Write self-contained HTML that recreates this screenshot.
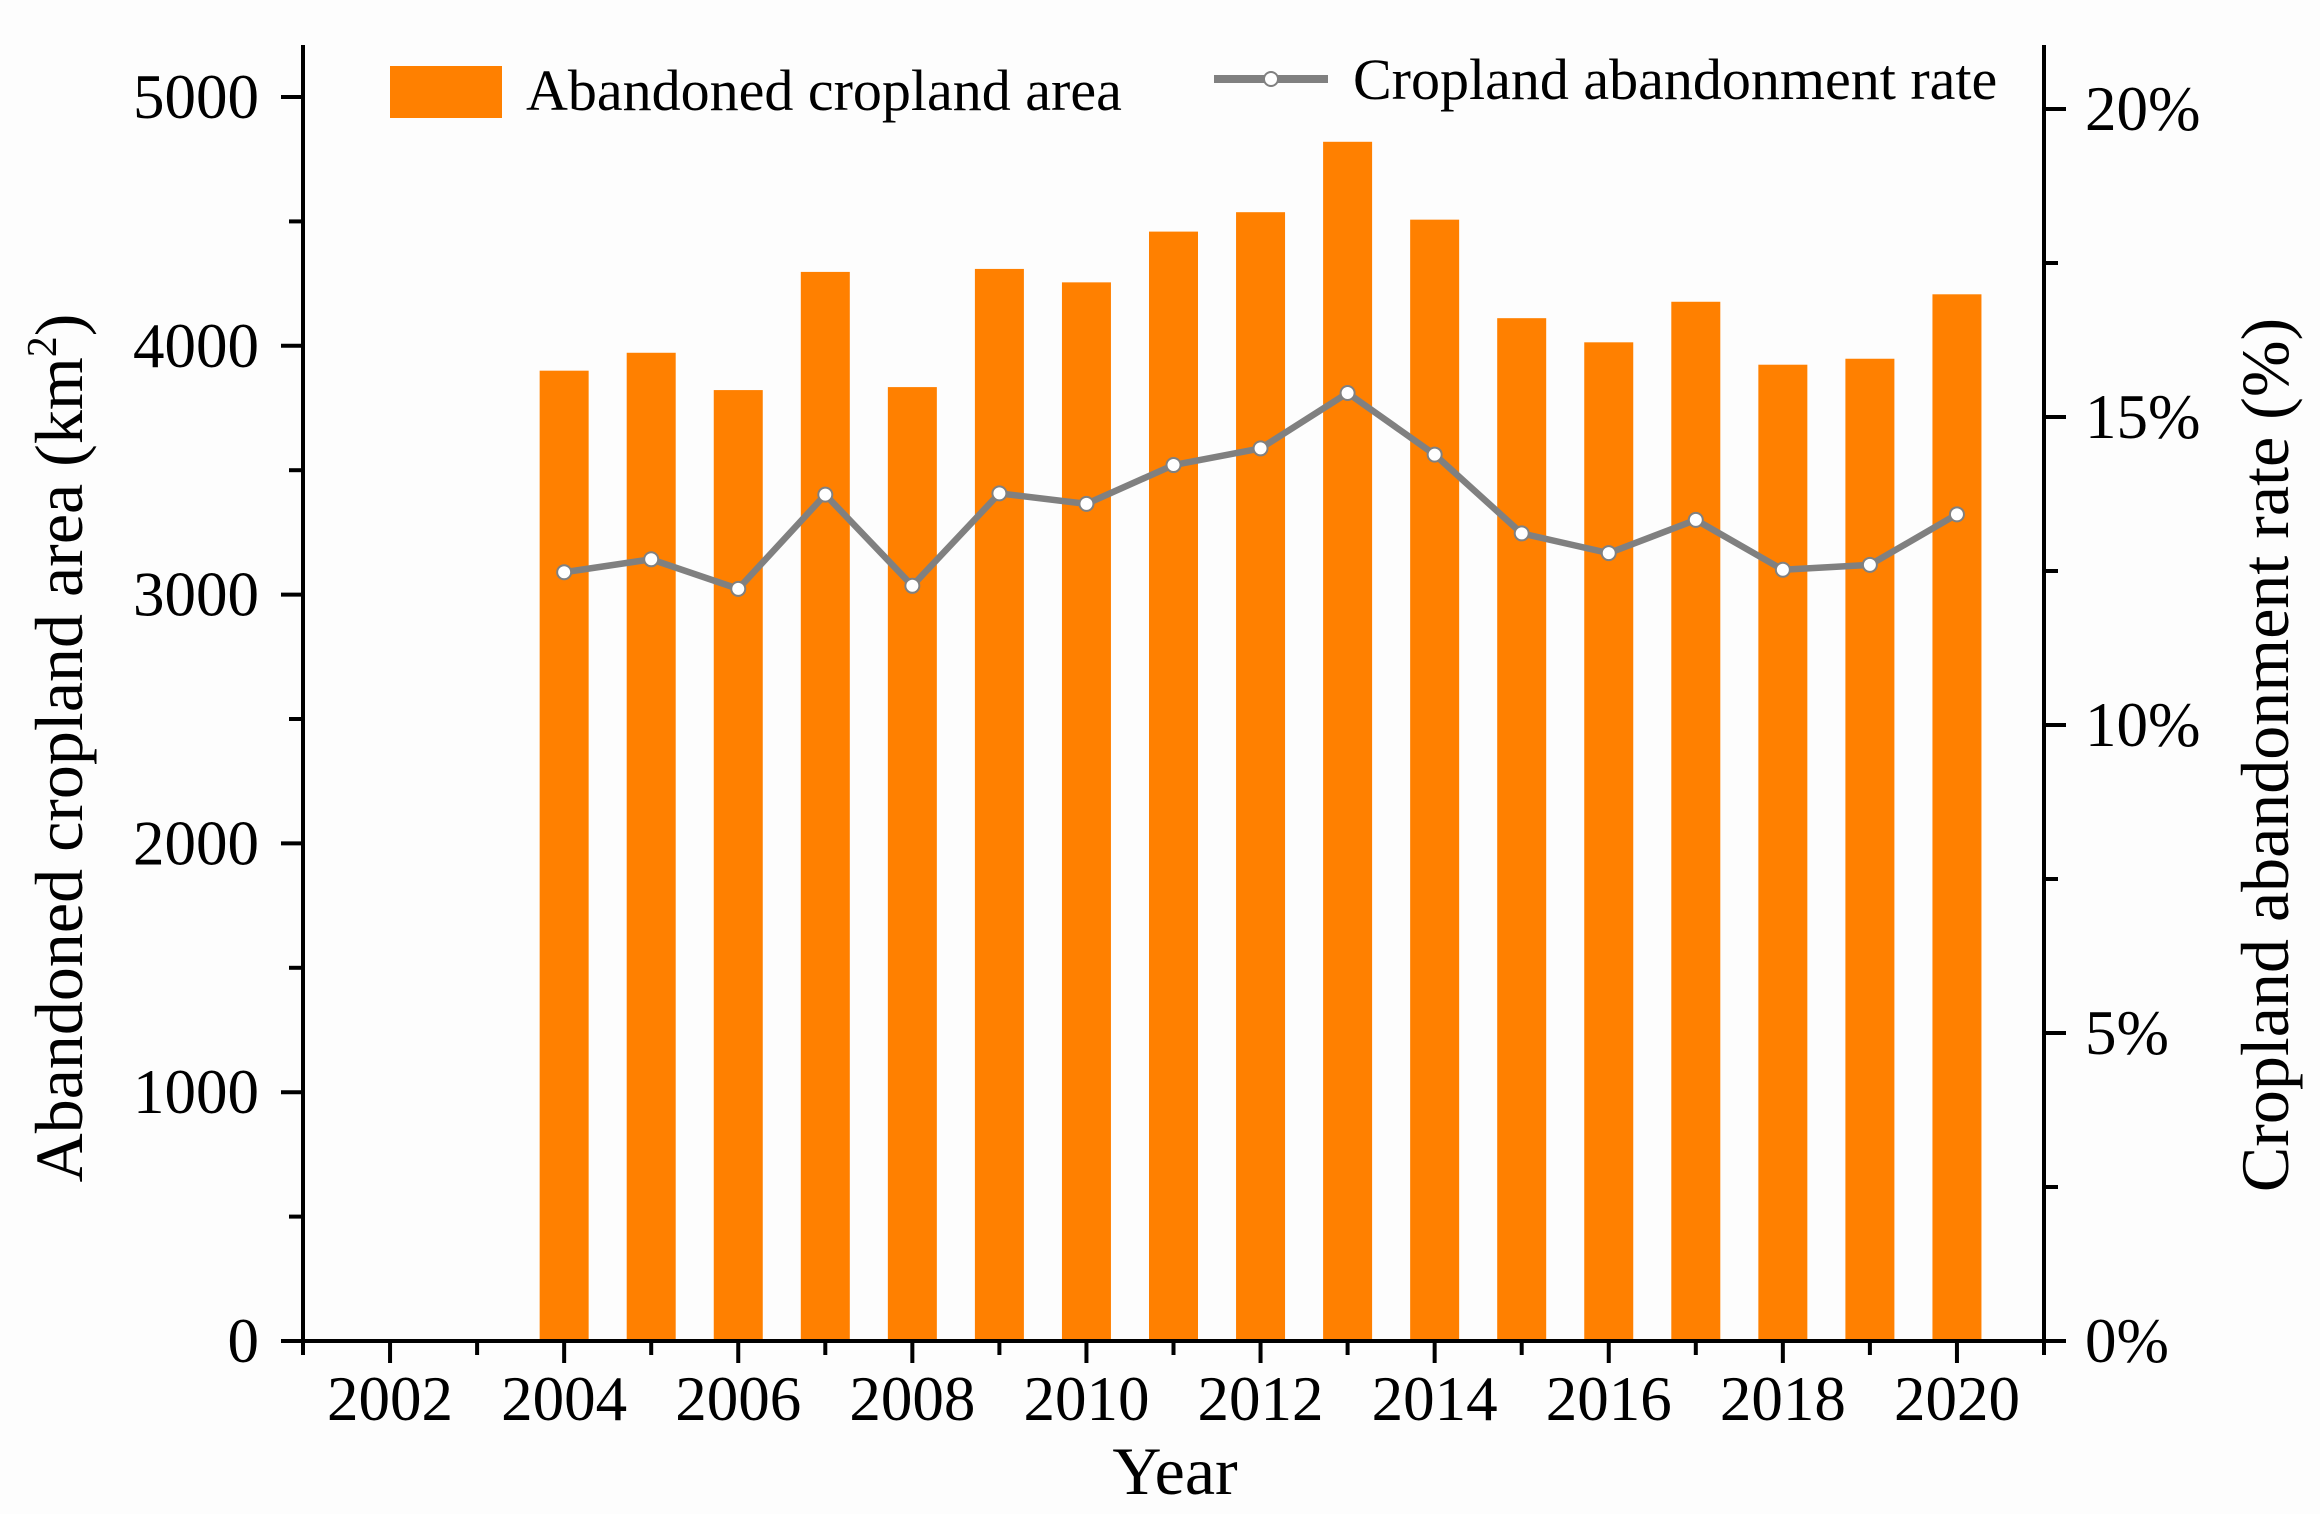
<!DOCTYPE html>
<html><head><meta charset="utf-8"><style>
html,body{margin:0;padding:0;background:#fff;}
svg{display:block;font-family:"Liberation Serif",serif;}
</style></head><body>
<svg id="chart" width="2320" height="1514" viewBox="0 0 2320 1514">
<rect width="2320" height="1514" fill="#fdfdfd"/>
<g id="bars"></g>
<g id="line"></g>
<g id="axes"></g>
<g>
<rect x="390" y="66" width="112" height="52" fill="#ff8000"/>
<text x="526" y="110" font-size="58">Abandoned cropland area</text>
<line x1="1214" y1="79" x2="1328" y2="79" stroke="#808080" stroke-width="8"/>
<circle cx="1271" cy="79" r="7" fill="#fff" stroke="#808080" stroke-width="2"/>
<text x="1353" y="99" font-size="58">Cropland abandonment rate</text>
</g>
<text transform="translate(82,748) rotate(-90)" text-anchor="middle" font-size="68">Abandoned cropland area (km<tspan dy="-26" font-size="42">2</tspan><tspan dy="26">)</tspan></text>
<text transform="translate(2288,755) rotate(-90)" text-anchor="middle" font-size="68">Cropland abandonment rate (%)</text>
<text x="1175" y="1494" text-anchor="middle" font-size="68">Year</text>
</svg>
<script>
const years = [2004,2005,2006,2007,2008,2009,2010,2011,2012,2013,2014,2015,2016,2017,2018,2019,2020];
const areaValues = [3900,3972,3822,4297,3834,4309,4255,4459,4537,4820,4507,4111,4014,4177,3924,3948,4207];
const rateValues = [12.48,12.69,12.21,13.74,12.26,13.76,13.59,14.22,14.49,15.39,14.39,13.11,12.79,13.33,12.52,12.6,13.42];
const xTickLabels = [2002,2004,2006,2008,2010,2012,2014,2016,2018,2020];
const leftTickLabels = [0,1000,2000,3000,4000,5000];
const rightTickLabels = [0,5,10,15,20];

const NS='http://www.w3.org/2000/svg';
const X0=303,X1=2044,Y0=1341,YT=45;
const xs=y=>X0+(y-2001)*(X1-X0)/20;
const yl=v=>Y0-v*(Y0-97)/5000;
const yr=v=>Y0-v*(Y0-109)/20;
function mk(tag,attrs,parent){const e=document.createElementNS(NS,tag);for(const k in attrs)e.setAttribute(k,attrs[k]);parent.appendChild(e);return e;}
const bars=document.getElementById('bars'),line=document.getElementById('line'),axes=document.getElementById('axes');
years.forEach((yr_,i)=>{
 const b=mk('rect',{x:xs(yr_)-24.5,y:yl(areaValues[i]),width:49,height:Y0-yl(areaValues[i]),fill:'#ff8000'},bars);
 
 
});
const pts=years.map((y,i)=>xs(y)+','+yr(rateValues[i])).join(' ');
const pl=mk('polyline',{points:pts,fill:'none',stroke:'#808080','stroke-width':6.5,'stroke-linejoin':'round'},line);


years.forEach((y,i)=>{
 const c=mk('circle',{cx:xs(y),cy:yr(rateValues[i]),r:7,fill:'#fff',stroke:'#808080','stroke-width':2},line);
 
 
});
const ax=(a)=>{const l=mk('line',Object.assign({stroke:'#000','stroke-width':4},a),axes);return l;};
let l;
l=ax({x1:X0,y1:YT,x2:X0,y2:Y0+2});
l=ax({x1:X1,y1:YT,x2:X1,y2:Y0+2});
l=ax({x1:X0-2,y1:Y0,x2:X1+2,y2:Y0});
for(let y=2001;y<=2021;y++){ax({x1:xs(y),y1:Y0,x2:xs(y),y2:Y0+(y%2==0?22:14)});}
xTickLabels.forEach(v=>{const t=mk('text',{x:xs(v),y:1420,'text-anchor':'middle','font-size':63},axes);t.textContent=v;
 
 });
for(let v=0;v<=5000;v+=500){ax({x1:X0,y1:yl(v),x2:X0-(v%1000==0?22:14),y2:yl(v)});}
leftTickLabels.forEach(v=>{const t=mk('text',{x:259,y:yl(v)+21,'text-anchor':'end','font-size':63},axes);t.textContent=v;
 
 });
for(let v=0;v<=20;v+=2.5){ax({x1:X1,y1:yr(v),x2:X1+(v%5==0?22:14),y2:yr(v)});}
rightTickLabels.forEach(v=>{const t=mk('text',{x:2085,y:yr(v)+21,'font-size':63},axes);t.textContent=v+'%';
 
 });
</script>
</body></html>
